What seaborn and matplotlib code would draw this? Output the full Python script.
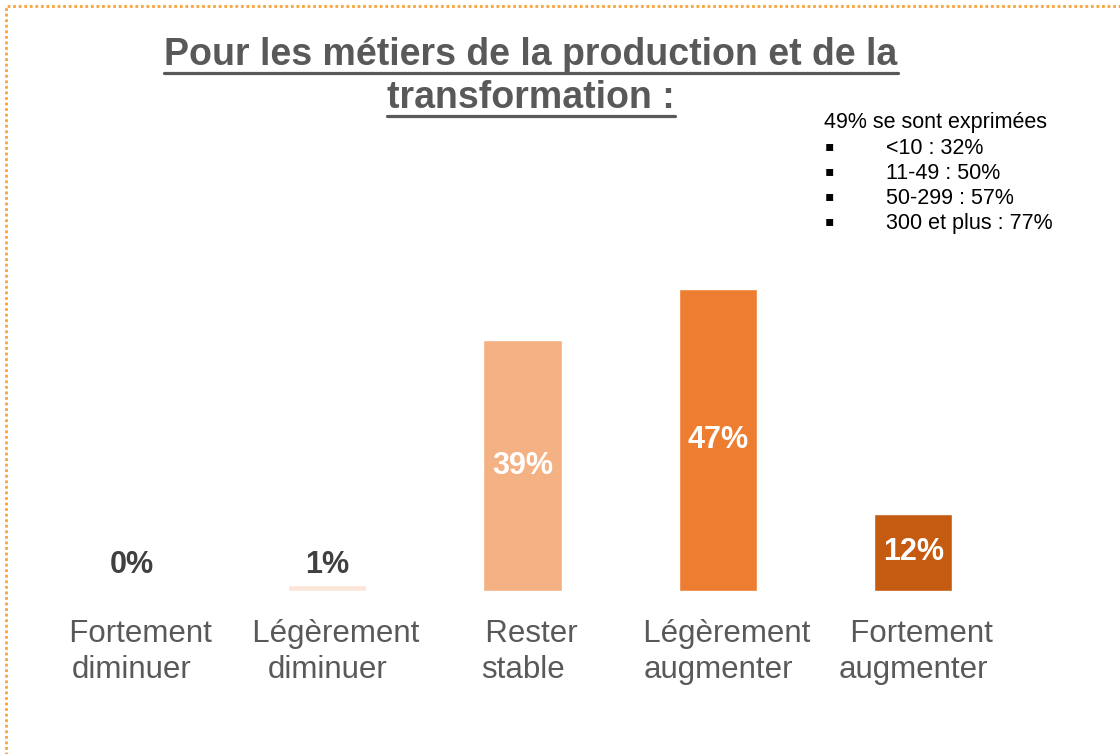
import numpy as np
import pandas as pd
import matplotlib
matplotlib.use('Agg')
import matplotlib.pyplot as plt
import matplotlib.patches as patches
import seaborn as sns

# data
categories = ['Fortement diminuer', 'Légèrement diminuer', 'Rester stable',
              'Légèrement augmenter', 'Fortement augmenter']
tick_labels = ['  Fortement\ndiminuer', '  Légèrement\ndiminuer', '  Rester\nstable',
               '  Légèrement\naugmenter', '  Fortement\naugmenter']
values = [0, 1, 39, 47, 12]
colors = ['#FBE5D6', '#FBE5D6', '#F4B183', '#ED7D31', '#C55A11']
title_lines = ['Pour les métiers de la production et de la', 'transformation :']
note_head = '49% se sont exprimées'
note_items = ['<10 : 32%', '11-49 : 50%', '50-299 : 57%', '300 et plus : 77%']

sns.set_theme(style='white')
plt.rcParams['font.family'] = ['Liberation Sans', 'DejaVu Sans']

df = pd.DataFrame({'cat': categories, 'val': values})

fig = plt.figure(figsize=(11.2, 7.54), dpi=100)
ax = fig.add_axes([0.0304, 0.2162, 0.8723, 0.4264])
sns.barplot(data=df, x='cat', y='val', hue='cat', palette=colors, legend=False,
            width=0.4, saturation=1, ax=ax)
ax.set_ylim(0, 50)
ax.set_xlim(-0.5, 4.5)
for s in ax.spines.values():
    s.set_visible(False)
ax.set_yticks([])
ax.set_xlabel('')
ax.set_ylabel('')
ax.set_xticks(range(len(categories)))
ax.set_xticklabels(tick_labels, fontsize=22.5, color='#595959', linespacing=1.25)
ax.tick_params(axis='x', length=0, pad=20)

# value labels
for i, v in enumerate(values):
    if v >= 10:
        ax.text(i, v / 2, f'{v}%', ha='center', va='center', fontsize=22,
                fontweight='bold', color='white')
    else:
        ax.text(i, 4.0, f'{v}%', ha='center', va='center', fontsize=22,
                fontweight='bold', color='#404040')

# underlined title
fig.canvas.draw()
renderer = fig.canvas.get_renderer()
W, H = fig.get_size_inches() * fig.dpi
for line, base in zip(title_lines, [65, 108]):
    t = fig.text(0.474, 1 - base / H, line, ha='center', va='baseline',
                 fontsize=27, fontweight='bold', color='#595959')
    bb = t.get_window_extent(renderer)
    yl = 1 - (base + 8) / H
    fig.add_artist(plt.Line2D([bb.x0 / W, bb.x1 / W], [yl, yl], color='#595959',
                              lw=2.3, transform=fig.transFigure))

# note in the top right
fig.text(824 / W, 1 - 128 / H, note_head, ha='left', va='baseline',
         fontsize=15.5, color='black')
for k, item in enumerate(note_items):
    base = 154 + k * 25
    fig.text(829 / W, 1 - (base - 8) / H, '▪', ha='center', va='center',
             fontsize=10, color='black', family=['DejaVu Sans'])
    fig.text(886 / W, 1 - base / H, item, ha='left', va='baseline',
             fontsize=15.5, color='black')

# dotted frame
fig.add_artist(patches.Rectangle((6 / W, -0.1), 1.2, 1.1 - 6 / H, transform=fig.transFigure,
                                 fill=False, edgecolor='#F9A33A', lw=2,
                                 linestyle=(0, (1, 1))))

fig.savefig('out.png', dpi=100)
